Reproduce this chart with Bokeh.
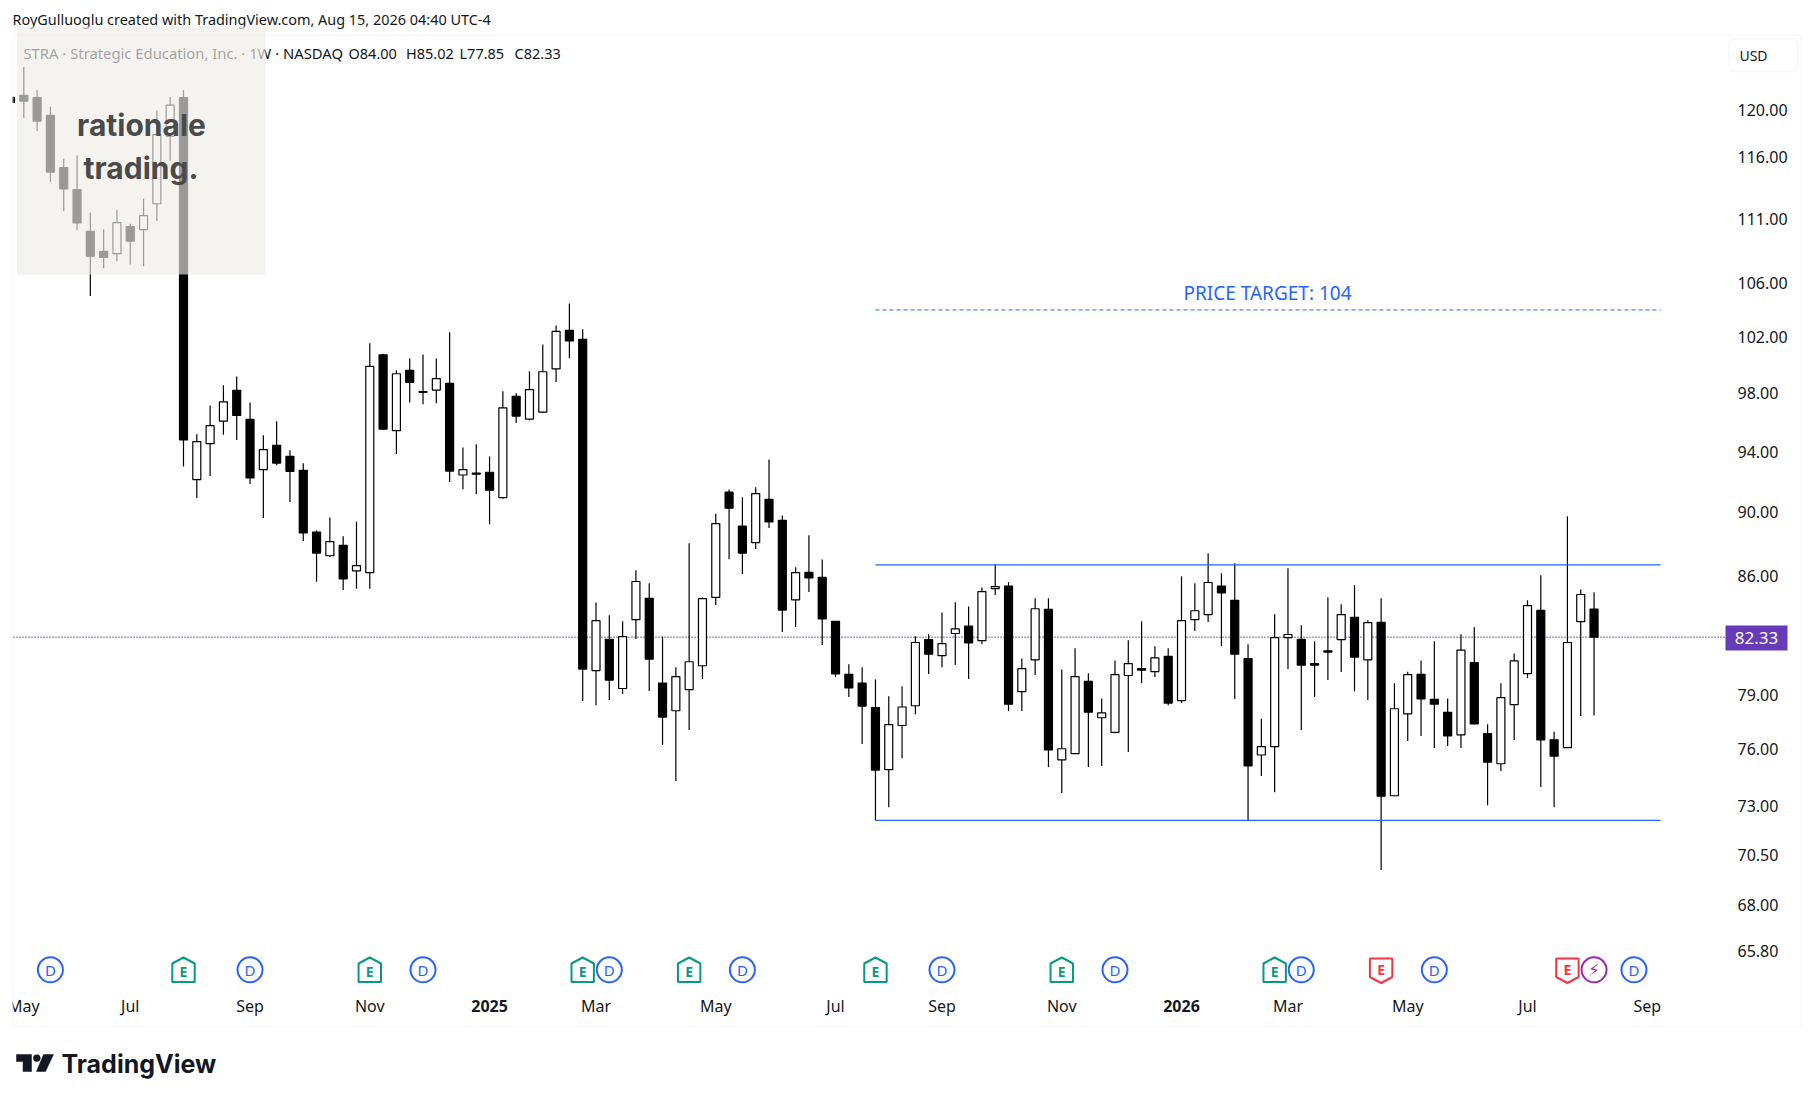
from bokeh.plotting import figure
from bokeh.embed import file_html
from bokeh.resources import INLINE
from bokeh.models import (FixedTicker, NumeralTickFormatter, Label, BoxAnnotation, ColumnDataSource)
from bokeh.core.properties import value
import math

opens = [121.05,121.22,121.02,119.49,115.12,113.33,110.01,108.44,108.26,110.37,
 110.14,112.19,117.73,121.02,92.14,94.53,96.07,98.20,96.18,92.79,
 94.42,93.67,92.75,88.74,87.26,87.91,86.32,86.22,100.72,95.41,
 99.61,98.11,98.22,98.69,92.44,92.56,92.62,90.96,97.78,96.20,
 96.68,99.72,102.50,101.84,80.39,82.21,79.37,83.37,84.65,79.67,
 78.12,79.31,80.67,84.70,91.31,89.12,88.08,90.85,89.49,84.56,
 86.24,85.93,83.27,80.18,79.67,78.30,74.90,77.30,78.40,82.19,
 81.25,82.55,82.98,82.13,85.24,85.39,79.19,81.01,83.98,75.43,
 75.76,79.78,77.73,76.92,80.11,80.50,80.33,81.21,78.69,83.37,
 83.67,85.39,84.53,81.09,75.69,76.14,82.31,82.21,80.79,81.54,
 82.19,83.51,81.01,83.21,73.52,77.95,80.18,78.76,78.03,76.79,
 80.85,76.85,75.22,78.46,80.22,83.92,76.52,76.09,83.25,84.00]
highs = [121.05,123.69,121.66,120.26,115.85,116.13,111.49,110.16,111.71,110.61,
 112.60,119.92,121.07,121.66,95.17,97.14,98.55,99.18,97.35,95.10,
 96.05,94.08,93.21,88.86,89.68,88.48,89.41,101.55,100.80,99.61,
 100.45,100.75,100.45,102.35,94.28,94.49,93.67,98.13,97.99,99.54,
 101.47,102.86,104.48,102.57,84.39,83.63,83.27,86.36,85.57,82.37,
 80.58,88.04,84.70,89.92,91.48,90.98,91.63,93.47,89.81,86.54,
 88.54,87.03,83.27,80.75,80.58,79.89,78.93,79.50,82.39,82.51,
 83.80,84.41,84.16,85.31,86.73,85.63,81.09,84.65,84.65,80.46,
 81.68,80.24,78.81,80.97,82.15,83.27,81.80,81.68,85.99,85.57,
 87.41,86.18,86.79,81.92,77.68,83.69,86.48,83.04,82.09,84.71,
 84.29,85.45,83.33,84.65,79.67,80.33,80.97,82.09,78.81,82.51,
 82.92,77.37,79.67,81.38,84.53,86.05,76.96,89.75,85.18,85.02]
lows = [120.61,119.27,118.17,113.95,111.60,110.08,105.04,107.15,107.68,107.43,
 107.30,110.81,115.71,93.01,90.93,92.37,95.14,94.78,91.85,89.64,
 93.08,90.67,88.19,85.65,87.18,85.16,85.23,85.23,95.45,93.83,
 97.35,97.23,97.30,91.98,91.50,91.17,89.24,90.90,95.93,96.11,
 96.62,98.78,100.47,78.66,78.43,78.72,79.06,82.23,79.23,76.23,
 74.30,77.06,79.91,84.24,87.05,86.13,87.68,89.01,82.64,82.94,
 85.03,81.87,80.03,78.89,76.29,72.24,72.92,75.52,77.93,80.20,
 80.59,80.71,79.91,81.93,84.85,78.10,78.10,80.14,75.04,73.66,
 75.74,75.04,75.10,76.88,75.85,79.68,80.03,78.43,78.55,82.70,
 83.23,81.81,78.78,72.22,74.57,73.71,80.48,77.06,78.89,79.85,
 80.31,79.21,78.72,69.72,73.50,76.45,76.73,76.07,76.18,76.07,
 77.37,73.02,74.83,76.51,79.97,73.98,72.92,76.07,77.83,77.85]
closes = [120.61,120.72,119.01,114.76,113.38,110.66,108.07,107.97,110.69,109.24,
 111.24,117.87,120.37,94.78,94.67,95.75,97.40,96.45,92.24,94.13,
 93.23,92.68,88.69,87.43,88.15,85.83,86.65,99.89,95.52,99.37,
 98.76,98.06,99.02,92.70,92.79,92.50,91.44,96.98,96.41,98.25,
 99.51,102.42,101.72,80.48,83.31,79.85,82.37,85.67,81.05,77.77,
 80.05,80.90,84.63,89.29,90.27,87.43,91.22,89.39,83.94,86.22,
 85.89,83.41,80.20,79.40,78.38,74.88,77.35,78.33,82.02,81.34,
 81.95,82.82,82.00,85.06,85.36,78.49,80.50,84.02,75.96,76.03,
 80.05,78.04,78.00,80.16,80.79,80.42,81.13,78.55,83.31,83.90,
 85.61,84.98,81.34,75.10,76.14,82.31,82.49,80.71,80.71,81.46,
 83.67,81.17,83.19,73.50,78.23,80.16,78.78,78.49,76.73,81.58,
 77.39,75.31,78.85,80.95,84.21,76.51,75.63,82.02,84.88,82.33]

price_ticks = [120, 116, 111, 106, 102, 98, 94, 90, 86, 79, 76, 73, 70.5, 68, 65.8]
month_idx = [1, 9, 18, 27, 44, 53, 62, 70, 79, 96, 105, 114, 123]
month_lbl = ["May", "Jul", "Sep", "Nov", "Mar", "May", "Jul", "Sep", "Nov", "Mar", "May", "Jul", "Sep"]
year_idx = [36, 88]
year_lbl = ["2025", "2026"]
div_idx = [3, 18, 31, 45, 55, 70, 83, 97, 107, 122]
earn_up_idx = [13, 27, 43, 51, 65, 79, 95]
earn_dn_idx = [103, 117]
news_idx = [119]
range_top = 86.70
range_bot = 72.24
target = 104.0
range_from, range_to = 65, 124
last_price = 82.33

# mapping of the whole canvas (the frame fills it so that nothing gets clipped)
W, H = 1806, 1085
BAR = 13.307
X0 = 10.0
P_REF, Y_REF, K = 120.0, 109.0, 1400.7
def price_at(y):
    return P_REF * math.exp(-(y - Y_REF) / K)
def x_at(px):
    return (px - X0) / BAR

p = figure(width=W, height=H, output_backend="svg", toolbar_location=None,
           y_axis_type="log", y_axis_location="right",
           x_range=(x_at(0), x_at(W)), y_range=(price_at(H), price_at(0)),
           min_border_left=0, min_border_right=0, min_border_top=0, min_border_bottom=0,
           background_fill_color="white", border_fill_color="white",
           outline_line_color=None)
p.grid.visible = False

idx = list(range(len(opens)))
up = [c >= o for o, c in zip(opens, closes)]
src = ColumnDataSource(dict(x=idx,
                            top=[max(a, b) for a, b in zip(opens, closes)],
                            bot=[min(a, b) for a, b in zip(opens, closes)],
                            fill=["#ffffff" if u else "#000000" for u in up]))

# price line and candles
p.segment([x_at(13)], [last_price], [x_at(1724)], [last_price], line_color="#5e35b1",
          line_width=1.4, line_dash="1 2")
p.segment(idx, highs, idx, lows, line_color="#000000", line_width=1.2)
p.vbar(x="x", top="top", bottom="bot", width=8.0 / BAR, fill_color="fill",
       line_color="#000000", line_width=1.2, source=src)
p.segment([range_from], [range_top], [range_to], [range_top], line_color="#2962ff", line_width=1.2)
p.segment([range_from], [range_bot], [range_to], [range_bot], line_color="#2962ff", line_width=1.2)
p.segment([range_from], [target], [range_to], [target], line_color="#2962ff", line_width=1, line_dash="4 3")

# events
EY = 969.3
def house(i, top, shoulder, bottom, hw, down=False):
    w = hw / BAR
    if down:
        return ([i - w, i + w, i + w, i, i - w],
                [price_at(top), price_at(top), price_at(shoulder), price_at(bottom), price_at(shoulder)])
    return ([i, i + w, i + w, i - w, i - w],
            [price_at(top), price_at(shoulder), price_at(bottom), price_at(bottom), price_at(shoulder)])

gu = [house(i, 957, 963, 981.5, 11.2) for i in earn_up_idx]
p.patches([g[0] for g in gu], [g[1] for g in gu], fill_color="white", line_color="#089981", line_width=2)
gd = [house(i, 958, 976.5, 982.5, 11.2, True) for i in earn_dn_idx]
p.patches([g[0] for g in gd], [g[1] for g in gd], fill_color="white", line_color="#f23645", line_width=2)
ey = price_at(EY)
p.scatter(div_idx, [ey] * len(div_idx), size=25, marker="circle", fill_color="white",
          line_color="#2962ff", line_width=2)
p.scatter(news_idx, [ey] * len(news_idx), size=25, marker="circle", fill_color="white",
          line_color="#9c27b0", line_width=2)
tkw = dict(text_align="center", text_baseline="middle", text_font_size="14px",
           text_font=value("Noto Sans"), text_font_style="bold")
p.text(div_idx, [ey] * len(div_idx), text=["D"] * len(div_idx), text_color="#2962ff",
       text_align="center", text_baseline="middle", text_font_size="15px", text_font=value("Noto Sans"))
p.text(earn_up_idx, [price_at(970.5)] * len(earn_up_idx), text=["E"] * len(earn_up_idx), text_color="#089981", **tkw)
p.text(earn_dn_idx, [price_at(968.5)] * len(earn_dn_idx), text=["E"] * len(earn_dn_idx), text_color="#f23645", **tkw)
p.text(news_idx, [ey] * len(news_idx), text=["\u26a1"] * len(news_idx), text_color="#9c27b0",
       text_align="center", text_baseline="middle", text_font_size="17px", text_font=value("DejaVu Sans"))

# TradingView logo mark
LG = "#131722"
p.patch([x_at(v) for v in (16, 31, 31, 22.5, 22.5, 16)],
        [price_at(v) for v in (1054, 1054, 1071, 1071, 1061, 1061)], fill_color=LG, line_color=LG, line_width=0.5)
p.patch([x_at(v) for v in (43, 53, 45, 36)],
        [price_at(v) for v in (1054, 1054, 1071, 1071)], fill_color=LG, line_color=LG, line_width=0.5)
p.scatter([x_at(36.3)], [price_at(1057.6)], size=7.4, marker="circle", fill_color=LG, line_color=None)

# axes (labels pulled back to their places inside the canvas)
ya = p.yaxis[0]
ya.ticker = FixedTicker(ticks=price_ticks)
ya.formatter = NumeralTickFormatter(format="0.00")
ya.axis_line_color = None
ya.major_tick_line_color = None
ya.minor_tick_line_color = None
ya.major_tick_in = 0
ya.major_tick_out = 0
ya.minor_tick_in = 0
ya.minor_tick_out = 0
ya.major_label_standoff = 1737 - W
ya.major_label_text_font = "Noto Sans"
ya.major_label_text_font_size = "16px"
ya.major_label_text_color = "#131722"

xa = p.xaxis[0]
xa.ticker = FixedTicker(ticks=month_idx)
xa.major_label_overrides = {i: l for i, l in zip(month_idx, month_lbl)}
xa.axis_line_color = None
xa.major_tick_line_color = None
xa.minor_tick_line_color = None
xa.major_tick_in = 0
xa.major_tick_out = 0
xa.minor_tick_in = 0
xa.minor_tick_out = 0
xa.major_label_standoff = 994 - H
xa.major_label_text_font = "Noto Sans"
xa.major_label_text_font_size = "16px"
xa.major_label_text_color = "#131722"

def T(px, py, text, size=15, color="#131722", align="left", font="Noto Sans", style="normal", baseline="middle"):
    p.add_layout(Label(x=px, y=py, x_units="canvas", y_units="canvas", text=text,
                       text_font=font, text_font_size=f"{size}px", text_color=color,
                       text_align=align, text_baseline=baseline, text_font_style=style))

def B(l, r, t, b, **kw):
    p.add_layout(BoxAnnotation(left=l, right=r, top=t, bottom=b,
                               left_units="canvas", right_units="canvas",
                               top_units="canvas", bottom_units="canvas", **kw))

for i, l in zip(year_idx, year_lbl):
    T(X0 + BAR * i, 1005, l, size=16, align="center", style="bold")

# white mask left of the pane, chart border
B(0, 12, 0, 1085, fill_color="white", fill_alpha=1, line_color=None)
B(12.5, 1801, 34.5, 1026, fill_alpha=0, line_color="#f0f0f0", line_width=2)

# texts
T(12, 19, "RoyGulluoglu created with TradingView.com, Aug 15, 2026 04:40 UTC-4", size=14.45)
T(23, 52.5, "STRA \u00b7 Strategic Education, Inc. \u00b7 1W \u00b7 NASDAQ", size=14.8)
T(348, 52.5, "O84.00", size=14.5)
T(405.5, 52.5, "H85.02", size=14.5)
T(459, 52.5, "L77.85", size=14.5)
T(514, 52.5, "C82.33", size=14.5)
T(1267, 292, "PRICE TARGET: 104", size=19, color="#2962ff", align="center")

# price tag, USD box
B(1725, 1787, 625, 650, fill_color="#673ab7", fill_alpha=1, line_color=None)
T(1756, 637.5, "82.33", size=17, color="#ffffff", align="center")
B(1728.5, 1797, 38.5, 71, fill_alpha=0, line_color="#e6e6e6", line_width=1.5, border_radius=6)
T(1753, 55, "USD", size=14, align="center")

# overlay logo
B(16.5, 265, 26, 274, fill_color="#eeede6", fill_alpha=0.65, line_color=None)
T(141, 124.5, "rationale", size=30, color="#4a4a4a", align="center", font="Inter", style="bold")
T(140.5, 167.5, "trading.", size=30, color="#4a4a4a", align="center", font="Inter", style="bold")

# TradingView word mark
T(61, 1063, "TradingView", size=25, color="#131722", font="Inter", style="bold")

open("out.html", "w").write(file_html(p, INLINE))
